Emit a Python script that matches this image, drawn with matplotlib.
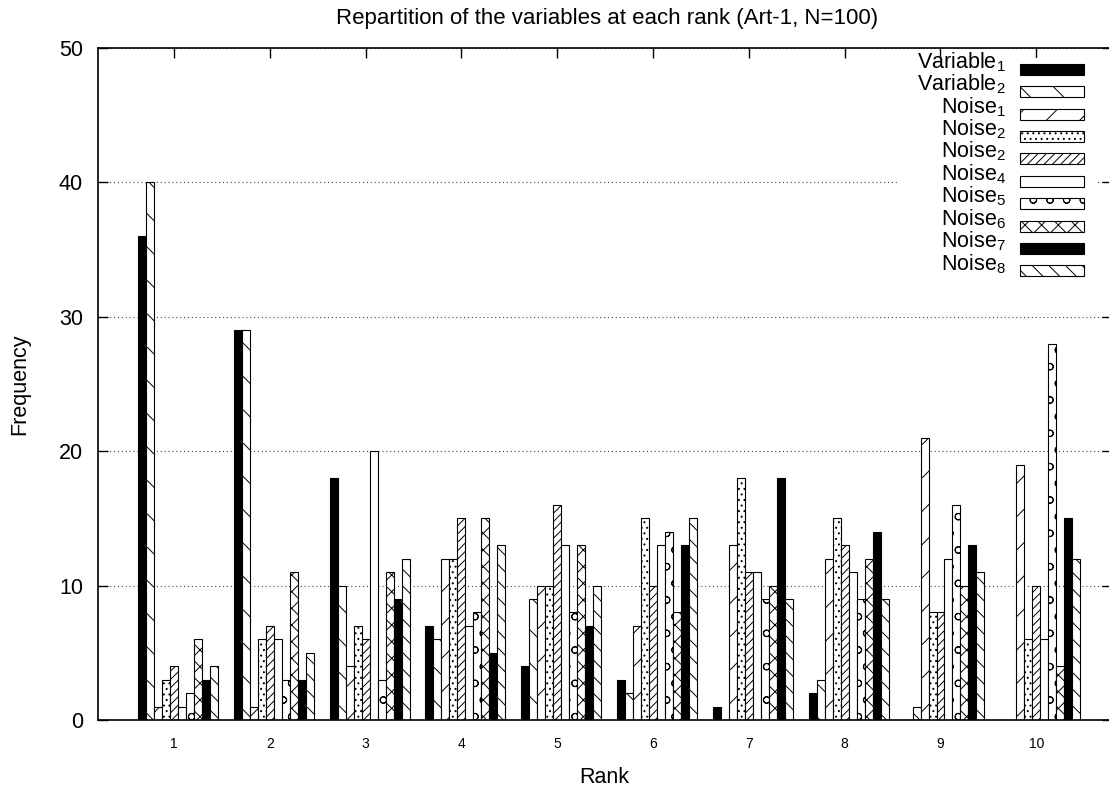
import numpy as np
import matplotlib
matplotlib.use("Agg")
from matplotlib import pyplot as plt
from matplotlib.patches import Rectangle

plt.rcParams['font.family'] = ['Liberation Sans', 'DejaVu Sans']
plt.rcParams['hatch.linewidth'] = 0.7

ranks = [1, 2, 3, 4, 5, 6, 7, 8, 9, 10]
rank_labels = ['1', '2', '3', '4', '5', '6', '7', '8', '9', '10']

# frequency of each variable at each rank
variable1 = [36, 29, 18, 7, 4, 3, 1, 2, 0, 0]
variable2 = [40, 29, 10, 6, 9, 2, 0, 3, 1, 0]
noise1 = [1, 1, 4, 12, 10, 7, 13, 12, 21, 19]
noise2 = [3, 6, 7, 12, 10, 15, 18, 15, 8, 6]
noise3 = [4, 7, 6, 15, 16, 10, 11, 13, 8, 10]
noise4 = [1, 6, 20, 7, 13, 13, 11, 11, 12, 6]
noise5 = [2, 3, 3, 8, 8, 14, 9, 9, 16, 28]
noise6 = [6, 11, 11, 15, 13, 8, 10, 12, 10, 4]
noise7 = [3, 3, 9, 5, 7, 13, 18, 14, 13, 15]
noise8 = [4, 5, 12, 13, 10, 15, 9, 9, 11, 12]

series_names = [r'Variable$_\mathregular{1}$', r'Variable$_\mathregular{2}$',
                r'Noise$_\mathregular{1}$', r'Noise$_\mathregular{2}$',
                r'Noise$_\mathregular{2}$', r'Noise$_\mathregular{4}$',
                r'Noise$_\mathregular{5}$', r'Noise$_\mathregular{6}$',
                r'Noise$_\mathregular{7}$', r'Noise$_\mathregular{8}$']
series = [variable1, variable2, noise1, noise2, noise3,
          noise4, noise5, noise6, noise7, noise8]

# gnuplot-like fill patterns
fills = ['black', 'white', 'white', 'white', 'white',
         'white', 'white', 'white', 'black', 'white']
hatches = [None, '\\', '/', '...', '////', None, 'o', 'xx', None, '\\\\']

W, H = 1109, 789
fig = plt.figure(figsize=(W / 100, H / 100), dpi=100)
ax = fig.add_axes([98 / W, (H - 720) / H, (1112 - 98) / W, (720 - 48) / H])

bw = 1 / 12
x = np.array(ranks, dtype=float)
for i, vals in enumerate(series):
    ax.bar(x + (i - 4) * bw, vals, width=bw, color=fills[i],
           edgecolor='black', hatch=hatches[i], linewidth=0.8, zorder=2)

ax.set_xlim(0.207, 10.79)
ax.set_ylim(0, 50)
ax.set_xticks(ranks)
ax.set_xticklabels(rank_labels)
ax.set_yticks([0, 10, 20, 30, 40, 50])
ax.tick_params(axis='y', direction='in', length=7.2, width=1, labelsize=15.5,
               pad=10.8, right=True)
ax.tick_params(axis='x', direction='in', length=7.2, width=1, labelsize=10,
               pad=12, top=True)
ax.grid(axis='y', linestyle=(0, (1, 2.5)), color='#444444', linewidth=0.8)
ax.set_axisbelow(True)
for sp in ax.spines.values():
    sp.set_linewidth(1.2)

fig.text(607 / W, 1 - 24 / H, 'Repartition of the variables at each rank (Art-1, N=100)',
         ha='center', va='baseline', fontsize=16)
fig.text(604 / W, 1 - 783 / H, 'Rank', ha='center', va='baseline', fontsize=15.5)
fig.text(20 / W, 1 - 384 / H, 'Frequency', ha='center', va='center',
         rotation=90, fontsize=15.5)

# key, drawn on a white panel like gnuplot does
fig.add_artist(Rectangle((897 / W, 1 - 286 / H), 200 / W, 228 / H,
                         transform=fig.transFigure, facecolor='white',
                         edgecolor='none', zorder=3))
for i, name in enumerate(series_names):
    yc = 69.3 + 22.4 * i
    fig.add_artist(Rectangle((1020 / W, 1 - (yc + 5.5) / H), 64 / W, 11 / H,
                             transform=fig.transFigure, facecolor=fills[i],
                             edgecolor='black', hatch=hatches[i],
                             linewidth=0.8, zorder=4))
    fig.text(1006 / W, 1 - (yc - 1) / H, name, ha='right', va='baseline',
             fontsize=15.5, zorder=4)

fig.savefig('out.png', dpi=100)
